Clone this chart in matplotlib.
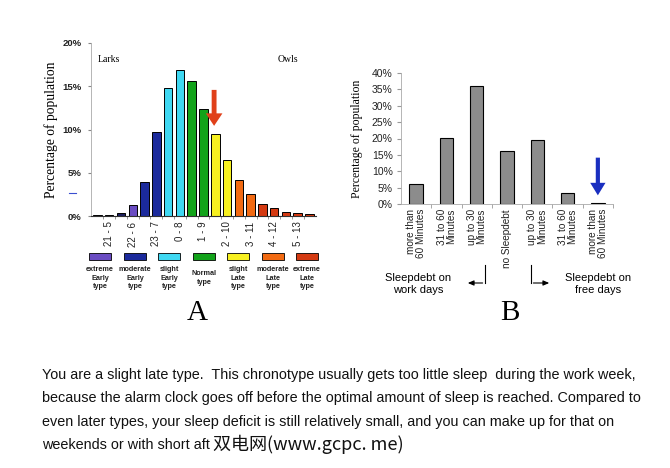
import matplotlib
matplotlib.use("Agg")
import matplotlib.pyplot as plt
from matplotlib.patches import Rectangle

# ---------------- data ----------------
# Panel A: chronotype distribution (percentage of population)
a_values = [0.1, 0.1, 0.3, 1.3, 3.9, 9.7, 14.8, 16.9, 15.6, 12.4,
            9.5, 6.5, 4.2, 2.6, 1.4, 0.9, 0.5, 0.3, 0.25]
a_types = ["dark", "dark", "dark", "xe", "me", "me", "se", "se", "n", "n",
           "sl", "sl", "ml", "ml", "xl", "xl", "xl", "xl", "xl"]
a_tick_pos = [1, 3, 5, 7, 9, 11, 13, 15, 17]
a_tick_labels = ["21 - 5", "22 - 6", "23 - 7", "0 - 8", "1 - 9",
                 "2 - 10", "3 - 11", "4 - 12", "5 - 13"]
a_yticks = [0, 5, 10, 15, 20]
a_marker_bar = 10

legend_keys = ["xe", "me", "se", "n", "sl", "ml", "xl"]
legend_labels = ["extreme\nEarly\ntype", "moderate\nEarly\ntype", "slight\nEarly\ntype",
                 "Normal\ntype", "slight\nLate\ntype", "moderate\nLate\ntype",
                 "extreme\nLate\ntype"]

# Panel B: sleep debt
b_categories = ["more than\n60 Minutes", "31 to 60\nMinutes", "up to 30\nMinutes",
                "no Sleepdebt", "up to 30\nMinutes", "31 to 60\nMinutes",
                "more than\n60 Minutes"]
b_values = [6.0, 20.3, 35.9, 16.3, 19.4, 3.3, 0.3]
b_yticks = [0, 5, 10, 15, 20, 25, 30, 35, 40]
b_marker_bar = 6

paragraph = [
    "You are a slight late type.  This chronotype usually gets too little sleep  during the work week,",
    "because the alarm clock goes off before the optimal amount of sleep is reached. Compared to",
    "even later types, your sleep deficit is still relatively small, and you can make up for that on",
    "weekends or with short aft",
]
watermark = "双电网(www.gcpc. me)"

# ---------------- styles ----------------
type_colors = {"dark": "#1c1f5e", "xe": "#6a4cc2", "me": "#1b2a9c", "se": "#3fd8f2",
               "n": "#12a31a", "sl": "#f7f020", "ml": "#f26a12", "xl": "#d43a12"}

W, H = 670, 468
fig = plt.figure(figsize=(W / 100, H / 100), dpi=100)
fig.patch.set_facecolor("white")

def frac(x0, y0, x1, y1):
    return [x0 / W, 1 - y1 / H, (x1 - x0) / W, (y1 - y0) / H]

sans = "Liberation Sans"
serif = "Liberation Serif"

# ---------------- Panel A ----------------
axA = fig.add_axes(frac(91, 43, 316, 216))
xs = list(range(len(a_values)))
axA.bar(xs, a_values, width=0.72, color=[type_colors[t] for t in a_types],
        edgecolor="black", linewidth=0.7, zorder=2)
axA.set_xlim(-0.55, 18.55)
axA.set_ylim(0, 20)
axA.set_yticks(a_yticks)
axA.set_yticklabels([f"{v}%" for v in a_yticks], fontsize=6.8, fontweight="bold",
                    family=sans, color="#222222")
axA.set_xticks(a_tick_pos)
axA.set_xticklabels(a_tick_labels, rotation=90, fontsize=7, family=sans, color="#222222")
axA.set_xticks([x + 0.5 for x in xs[:-1]], minor=True)
axA.tick_params(axis="x", which="major", length=0, pad=4)
axA.tick_params(axis="x", which="minor", length=2, color="#888888")
axA.tick_params(axis="y", length=2, color="#888888", pad=5)
for s in ["top", "right"]:
    axA.spines[s].set_visible(False)
axA.spines["left"].set_color("#aaaaaa")
axA.spines["left"].set_linewidth(0.6)
axA.spines["bottom"].set_color("#333333")
axA.spines["bottom"].set_linewidth(0.8)
axA.set_ylabel("Percentage of population", family=serif, fontsize=9.8, labelpad=3)
axA.text(0.03, 0.89, "Larks", transform=axA.transAxes, family=serif, fontsize=7)
axA.text(0.83, 0.89, "Owls", transform=axA.transAxes, family=serif, fontsize=7)
axA.annotate("", xy=(a_marker_bar - 0.1, a_values[a_marker_bar] + 0.6),
             xytext=(a_marker_bar - 0.1, 14.9),
             arrowprops=dict(arrowstyle="simple,head_length=0.9,head_width=1.2,tail_width=0.35",
                             color="#e0401a", lw=0))

# ---------------- Panel B ----------------
axB = fig.add_axes(frac(401, 73, 613, 204))
bx = list(range(len(b_values)))
axB.bar(bx, b_values, width=0.44, color="#8c8c8c", edgecolor="black", linewidth=0.8, zorder=2)
axB.set_xlim(-0.5, 6.5)
axB.set_ylim(0, 40)
axB.set_yticks(b_yticks)
axB.set_yticklabels([f"{v}%" for v in b_yticks], fontsize=7.5, family=sans, color="#222222")
axB.set_xticks(bx)
axB.set_xticklabels([])
axB.set_xticks([x + 0.5 for x in bx], minor=True)
axB.tick_params(axis="x", which="major", length=0)
axB.tick_params(axis="x", which="minor", length=3, color="#999999")
axB.tick_params(axis="y", length=3, color="#999999", pad=3)
for s in ["top", "right"]:
    axB.spines[s].set_visible(False)
axB.spines["left"].set_color("#aaaaaa")
axB.spines["left"].set_linewidth(0.6)
axB.spines["bottom"].set_color("#aaaaaa")
axB.spines["bottom"].set_linewidth(0.6)
axB.set_ylabel("Percentage of population", family=serif, fontsize=8.5, labelpad=6)
for x, lab in zip(bx, b_categories):
    axB.text(x, -1.5, lab, rotation=90, ha="center", va="top", multialignment="right",
             fontsize=7.2, family=sans, color="#222222", linespacing=0.95)
axB.annotate("", xy=(b_marker_bar, b_values[b_marker_bar] + 1.5),
             xytext=(b_marker_bar, 15),
             arrowprops=dict(arrowstyle="simple,head_length=0.9,head_width=1.1,tail_width=0.3",
                             color="#1a2fc0", lw=0))

# ---------------- overlay (pixel coordinates) ----------------
ov = fig.add_axes([0, 0, 1, 1], zorder=-1)
ov.set_xlim(0, W)
ov.set_ylim(H, 0)
ov.axis("off")

# stray mark on panel A
ov.plot([69, 76], [193, 193], color="#3a4fd0", lw=0.8)

# legend of panel A
leg_x = [100, 135, 169, 204, 238, 273, 307]
for cx, key, lab in zip(leg_x, legend_keys, legend_labels):
    ov.add_patch(Rectangle((cx - 11, 252.5), 22, 7, facecolor=type_colors[key],
                           edgecolor="black", lw=0.6))
    ytop = 266 if lab.count("\n") == 2 else 270
    ov.text(cx, ytop, lab, ha="center", va="top", fontsize=5.2, fontweight="bold",
            family=sans, linespacing=1.35, color="#222222")

ov.text(197, 313, "A", ha="center", va="center", family=serif, fontsize=21)
ov.text(510, 313, "B", ha="center", va="center", family=serif, fontsize=21)

# sleep debt brackets
ov.plot([485, 485], [265, 283], color="black", lw=0.8)
ov.annotate("", xy=(465, 283), xytext=(485.4, 283),
            arrowprops=dict(arrowstyle="-|>,head_length=0.35,head_width=0.15", color="black", lw=0.8))
ov.plot([531, 531], [265, 283], color="black", lw=0.8)
ov.annotate("", xy=(552, 283), xytext=(530.6, 283),
            arrowprops=dict(arrowstyle="-|>,head_length=0.35,head_width=0.15", color="black", lw=0.8))
ov.text(418, 284, "Sleepdebt on\nwork days", ha="center", va="center", family=sans,
        fontsize=8, linespacing=1.2)
ov.text(598, 284, "Sleepdebt on\nfree days", ha="center", va="center", family=sans,
        fontsize=8, linespacing=1.2)

# paragraph
line_y = [375, 398, 422, 445]
for y, line in zip(line_y, paragraph):
    ov.text(42, y, line, ha="left", va="center", family=sans, fontsize=10.4, color="#111111")
ov.text(213, 444, watermark, ha="left", va="center",
        family=["Noto Sans CJK SC", "DejaVu Sans"], fontsize=13, color="#111111")

fig.savefig("out.png", dpi=100, facecolor="white")
